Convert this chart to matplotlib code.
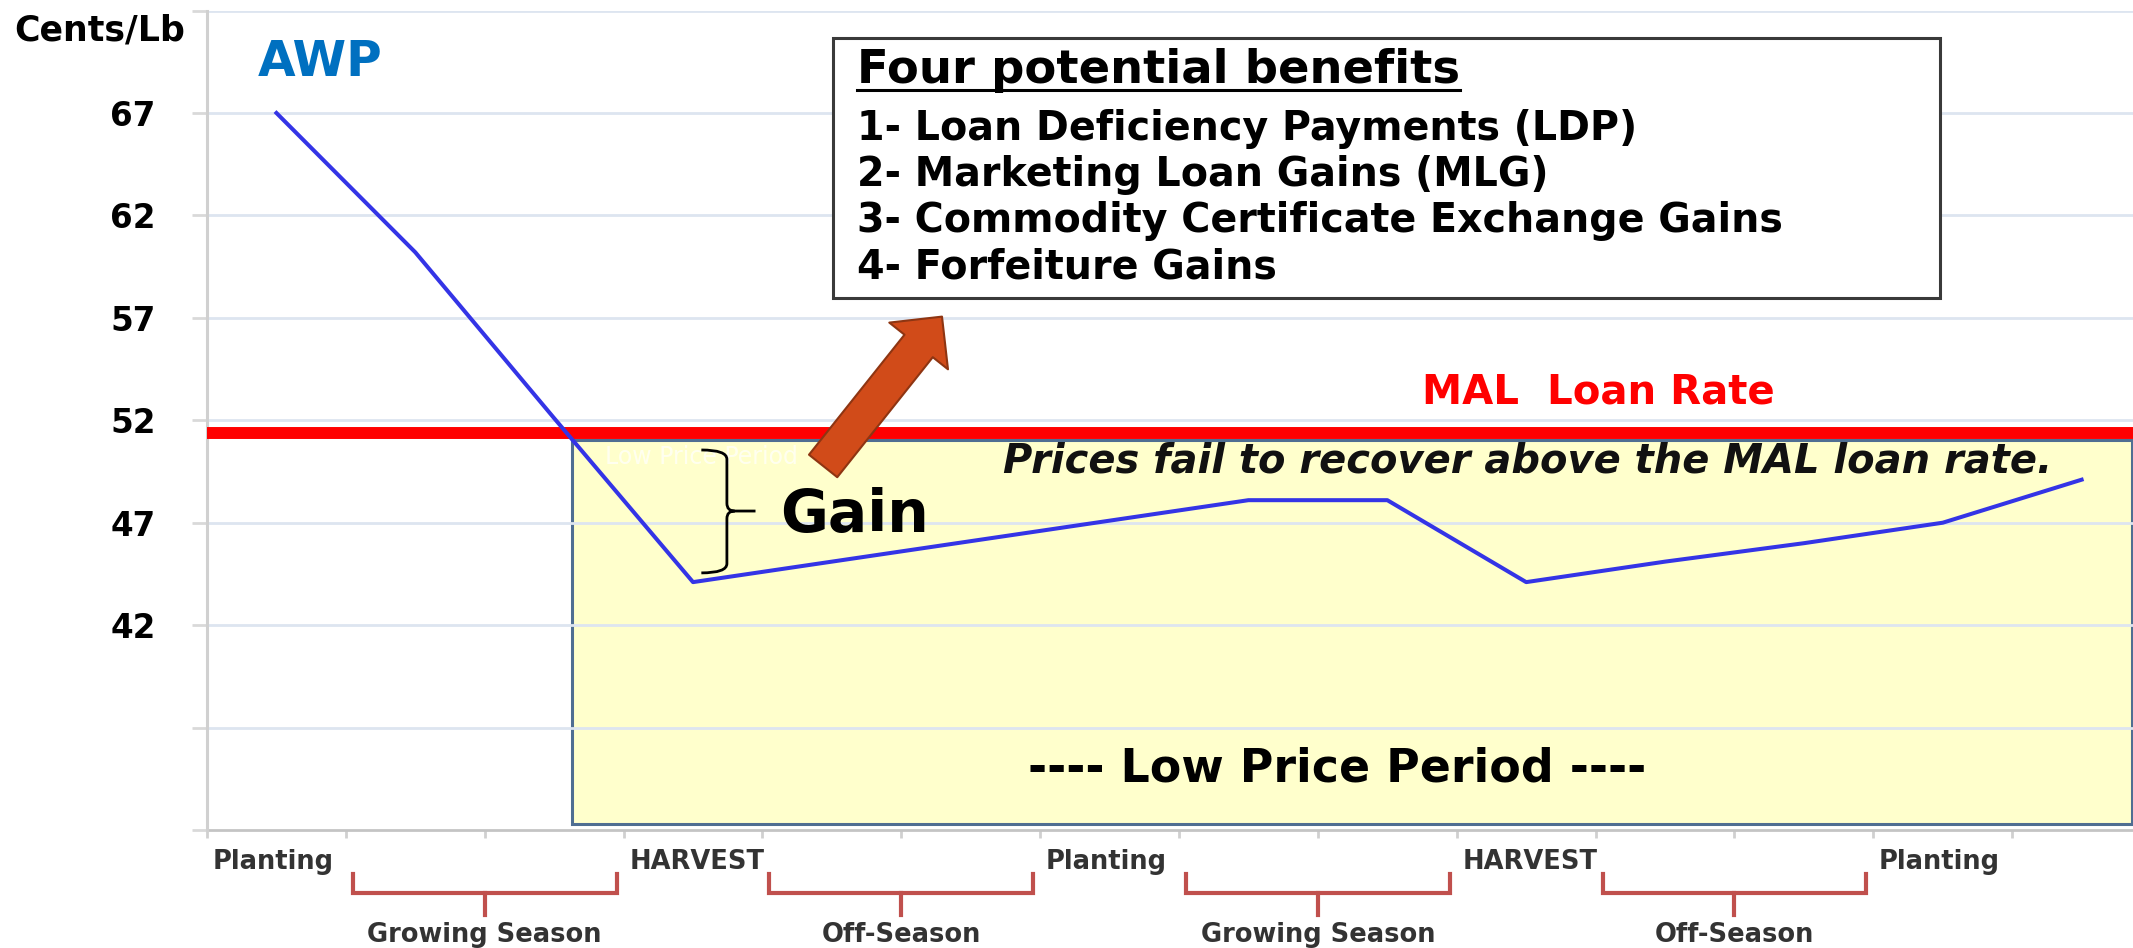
import matplotlib.pyplot as plt
from matplotlib.patches import Rectangle, FancyArrowPatch, ArrowStyle, PathPatch
from matplotlib.path import Path

# AWP price path (cents/lb), one point per period middle
periods = [0.5, 1.5, 2.5, 3.5, 4.5, 5.5, 6.5, 7.5, 8.5, 9.5, 10.5, 11.5, 12.5, 13.5]
awp = [67.0, 60.2, 52.1, 44.1, 45.1, 46.1, 47.1, 48.1, 48.1, 44.1, 45.1, 46.0, 47.0, 49.1]
loan_rate = 51.4
low_price_start = 2.63

y_ticks = [32, 37, 42, 47, 52, 57, 62, 67, 72]
y_labels = ['', '', '42', '47', '52', '57', '62', '67', '']
stage_labels = ['Planting', 'HARVEST', 'Planting', 'HARVEST', 'Planting']
stage_pos = [0, 3, 6, 9, 12]
season_labels = ['Growing Season', 'Off-Season', 'Growing Season', 'Off-Season']
season_pos = [2, 5, 8, 11]
benefits = ['1- Loan Deficiency Payments (LDP)',
            '2- Marketing Loan Gains (MLG)',
            '3- Commodity Certificate Exchange Gains',
            '4- Forfeiture Gains']

fig = plt.figure(figsize=(21.33, 9.48), dpi=100)
ax = fig.add_axes([0.09705, 0.12447, 0.90295, 0.8644])
xmax = 13.87
ax.set_xlim(0, xmax)
ax.set_ylim(32, 72)

for s in ['top', 'right']:
    ax.spines[s].set_visible(False)
ax.spines['left'].set_color('#d0d0d0')
ax.spines['left'].set_linewidth(2.2)
ax.spines['bottom'].set_color('#c4c4c4')
ax.spines['bottom'].set_linewidth(2)
ax.spines['bottom'].set_zorder(2)

ax.set_yticks(y_ticks, y_labels)
ax.tick_params(axis='y', length=11, width=2, color='#d9d9d9', pad=26, labelsize=23.5)
for lbl in ax.get_yticklabels():
    lbl.set_fontweight('bold')
ax.set_xticks(range(14))
ax.tick_params(axis='x', length=6, width=2, color='#d0d0d0', labelbottom=False)

for y in y_ticks[1:]:
    ax.axhline(y, color='#dde5f0', lw=2, zorder=1.2)

# low price period box
ax.add_patch(Rectangle((low_price_start, 32.3), xmax - 0.01 - low_price_start, 51.05 - 32.3,
                       fc='#ffffcc', ec='#4f6e92', lw=2.2, zorder=1))
ax.text(3.56, 50.2, 'Low Price Period', color='white', alpha=0.7, fontsize=17,
        ha='center', va='center', zorder=2)

ax.plot([0, xmax], [loan_rate, loan_rate], color='#ff0000', lw=8.6,
        solid_capstyle='butt', zorder=3)
ax.plot(periods, awp, color='#3434e6', lw=2.9, zorder=4)

# texts
fig.text(14 / 2133, 1 - 30 / 948, 'Cents/Lb', ha='left', va='center', fontsize=25, weight='bold')
ax.text(0.367, 69.5, 'AWP', color='#0070c0', fontsize=35, weight='bold', ha='left', va='center')
ax.text(8.75, 52.8, 'MAL  Loan Rate', color='#ff0000', fontsize=29, weight='bold',
        ha='left', va='baseline', zorder=5)
ax.text(5.73, 49.43, 'Prices fail to recover above the MAL loan rate.', fontsize=28.8,
        weight='bold', style='italic', color='#111111', ha='left', va='baseline', zorder=5)
ax.text(4.13, 46.55, 'Gain', fontsize=42, weight='bold', ha='left', va='baseline', zorder=5)
ax.text(8.14, 34.35, '---- Low Price Period ----', fontsize=33, weight='bold',
        ha='center', va='baseline', zorder=5)

# brace next to "Gain"
bx, tx, px = 3.744, 3.56, 3.95
verts = [(tx, 50.55), (bx, 50.55), (bx, 50.1), (bx, 47.95), (bx, 47.57), (3.80, 47.57),
         (px, 47.57), (3.80, 47.57), (bx, 47.57), (bx, 47.2), (bx, 45.0), (bx, 44.55), (tx, 44.55)]
codes = [Path.MOVETO, Path.CURVE3, Path.CURVE3, Path.LINETO, Path.CURVE3, Path.CURVE3,
         Path.LINETO, Path.MOVETO, Path.CURVE3, Path.CURVE3, Path.LINETO, Path.CURVE3, Path.CURVE3]
ax.add_patch(PathPatch(Path(verts, codes), fc='none', ec='black', lw=2, zorder=5))

# benefits box
ax.add_patch(Rectangle((4.51, 57.97), 12.48 - 4.51, 70.66 - 57.97,
                       fc='white', ec='#3a3a3a', lw=2.2, zorder=5))
title = ax.text(4.68, 68.46, 'Four potential benefits', fontsize=33.5, weight='bold',
                ha='left', va='baseline', zorder=6)
for i, b in enumerate(benefits):
    ax.text(4.68, 65.68 - 2.25 * i, b, fontsize=28.5, weight='bold',
            ha='left', va='baseline', zorder=6)

fig.canvas.draw()
bb = title.get_window_extent(fig.canvas.get_renderer())
x0 = ax.transData.inverted().transform((bb.x0, 0))[0]
x1 = ax.transData.inverted().transform((bb.x1, 0))[0]
ax.plot([x0, x1], [68.1, 68.1], color='black', lw=2.2, zorder=6)

ax.add_patch(FancyArrowPatch((4.437, 49.77), (5.293, 57.06),
                             arrowstyle=ArrowStyle.Simple(head_length=27, head_width=54, tail_width=26),
                             mutation_scale=1, shrinkA=0, shrinkB=0,
                             fc='#d14b19', ec='#8e3512', lw=1.5, zorder=6))

# x axis stage labels and season brackets
for lab, p in zip(stage_labels, stage_pos):
    ax.text(p + 0.04, 30.45, lab, fontsize=18.5, weight='bold', color='#333333',
            ha='left', va='center', clip_on=False)
for lab, c in zip(season_labels, season_pos):
    ax.plot([c - 0.95, c - 0.95, c + 0.95, c + 0.95], [29.86, 28.93, 28.93, 29.86],
            color='#c0504d', lw=3, clip_on=False, solid_joinstyle='miter')
    ax.plot([c, c], [28.93, 27.86], color='#c0504d', lw=3, clip_on=False)
    ax.text(c, 26.88, lab, fontsize=18.5, weight='bold', color='#333333',
            ha='center', va='center', clip_on=False)

fig.savefig('out.png', dpi=100)
